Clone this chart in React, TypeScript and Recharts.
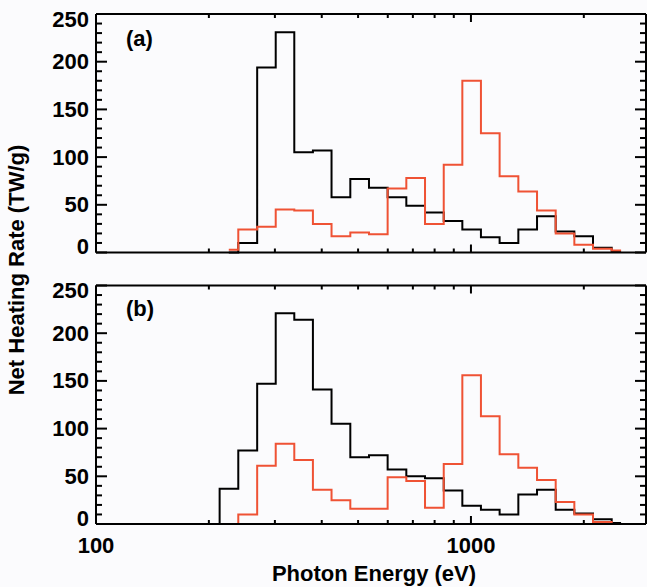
import { LineChart, Line, XAxis, YAxis, Label, ReferenceLine } from 'recharts'

const FONT = '"Liberation Sans", Arial, Helvetica, sans-serif'
const RED = '#ef5234'

// bin centres (eV), 20 bins per decade
const energy = [202, 226, 254, 285, 319, 358, 401, 450, 505, 566, 635, 712, 799, 896, 1004, 1126, 1263, 1417, 1589, 1782, 1998, 2241, 2514]

// panel (a)
const blackA = [null, 0, 10, 194, 231, 105, 107, 58, 77, 68, 58, 49, 42, 33, 24, 16, 10, 24, 38, 22, 17, 5, 1]
const redA = [null, 3, 24, 27, 45, 44, 30, 17, 21, 19, 67, 78, 30, 92, 180, 125, 80, 64, 44, 20, 8, 4, 2]

// panel (b)
const blackB = [0, 37, 77, 147, 221, 214, 141, 105, 70, 72, 57, 50, 48, 35, 19, 15, 10, 31, 36, 15, 11, 5, 1]
const redB = [null, 0, 10, 61, 84, 67, 36, 25, 16, 16, 49, 45, 17, 63, 156, 113, 73, 59, 46, 23, 10, 2, 0]

const yTicks = [0, 10, 20, 30, 40, 50, 60, 70, 80, 90, 100, 110, 120, 130, 140, 150, 160, 170, 180, 190, 200, 210, 220, 230, 240, 250]
const yLabelled = [0, 50, 100, 150, 200, 250]
const xTicks = [100, 200, 300, 400, 500, 600, 700, 800, 900, 1000, 2000]
const xLabelled = [100, 1000]

const X_DOMAIN: [number, number] = [100, 2930]
const Y_DOMAIN: [number, number] = [0, 250]

// plot box size, same for both panels
const PLOT_W = 550
const PLOT_H = 238.5
const PX_PER_DECADE = PLOT_W / Math.log10(X_DOMAIN[1] / X_DOMAIN[0])
const PX_PER_UNIT = PLOT_H / (Y_DOMAIN[1] - Y_DOMAIN[0])
const Y_MARGIN = 7
const X_MARGIN = 13

const axisStyle = { stroke: '#000', strokeWidth: 2 }
const textProps = { fontFamily: FONT, fontSize: 22, fontWeight: 'bold' as const, fill: '#000' }

const xLen = (v: number) => (xLabelled.includes(v) ? 8 : 4)
const yLen = (v: number) => (yLabelled.includes(v) ? 11 : 6)

const xTickLabel = (props: any) => {
  const v = props.payload.value
  if (!xLabelled.includes(v)) return <g />
  return (
    <text x={Number(props.x)} y={Number(props.y)} dy="0.71em" textAnchor="middle" {...textProps}>
      {v}
    </text>
  )
}

const yTickLabel = (props: any) => {
  const v = props.payload.value
  let dy = 0
  if (v === 0) dy = -6
  if (v === 250) dy = 5
  return (
    <text x={Number(props.x)} y={Number(props.y) + dy} textAnchor="end" dominantBaseline="central" {...textProps}>
      {v}
    </text>
  )
}

// IDL-style inward tick marks on all four sides, as short segments in data space
const tickMarks = () => {
  const marks: React.ReactNode[] = []
  const tickProps = { xAxisId: 'x', yAxisId: 'y', stroke: '#000', strokeWidth: 2, ifOverflow: 'visible' as const }
  xTicks.forEach((v) => {
    const dy = xLen(v) / PX_PER_UNIT
    marks.push(<ReferenceLine key={`xb${v}`} {...tickProps} segment={[{ x: v, y: Y_DOMAIN[0] }, { x: v, y: Y_DOMAIN[0] + dy }]} />)
    marks.push(<ReferenceLine key={`xt${v}`} {...tickProps} segment={[{ x: v, y: Y_DOMAIN[1] }, { x: v, y: Y_DOMAIN[1] - dy }]} />)
  })
  yTicks.forEach((v) => {
    const f = Math.pow(10, yLen(v) / PX_PER_DECADE)
    marks.push(<ReferenceLine key={`yl${v}`} {...tickProps} segment={[{ x: X_DOMAIN[0], y: v }, { x: X_DOMAIN[0] * f, y: v }]} />)
    marks.push(<ReferenceLine key={`yr${v}`} {...tickProps} segment={[{ x: X_DOMAIN[1], y: v }, { x: X_DOMAIN[1] / f, y: v }]} />)
  })
  return marks
}

interface PanelProps {
  black: (number | null)[]
  red: (number | null)[]
  height: number
  margin: { top: number; right: number; bottom: number; left: number }
  showX: boolean
}

const Panel = ({ black, red, height, margin, showX }: PanelProps) => {
  const rows = energy.map((e, i) => ({ e, black: black[i], red: red[i] }))

  return (
    <LineChart width={647} height={height} data={rows} margin={margin}>
      <XAxis
        xAxisId="xt"
        type="number"
        dataKey="e"
        scale="log"
        domain={X_DOMAIN}
        orientation="top"
        height={1}
        tick={false}
        tickLine={false}
        axisLine={axisStyle}
      />
      <XAxis
        xAxisId="x"
        type="number"
        dataKey="e"
        scale="log"
        domain={X_DOMAIN}
        ticks={xTicks}
        interval={0}
        orientation="bottom"
        height={showX ? 63 : 1}
        tickLine={false}
        tickSize={0}
        tickMargin={showX ? X_MARGIN : 0}
        axisLine={axisStyle}
        tick={showX ? xTickLabel : false}
      >
        {showX && (
          <Label value="Photon Energy (eV)" position="insideBottom" offset={6} dx={3} style={textProps} />
        )}
      </XAxis>

      <YAxis
        yAxisId="y"
        domain={Y_DOMAIN}
        ticks={yLabelled}
        interval={0}
        orientation="left"
        width={96}
        tickLine={false}
        tickSize={0}
        tickMargin={Y_MARGIN}
        axisLine={axisStyle}
        tick={yTickLabel}
      />
      <YAxis
        yAxisId="yr"
        domain={Y_DOMAIN}
        orientation="right"
        width={1}
        tick={false}
        tickLine={false}
        axisLine={axisStyle}
      />

      {tickMarks()}

      <Line xAxisId="x" yAxisId="y" dataKey="black" type="step" stroke="#000" strokeWidth={2} dot={false} isAnimationActive={false} />
      <Line xAxisId="x" yAxisId="y" dataKey="red" type="step" stroke={RED} strokeWidth={2} dot={false} isAnimationActive={false} />
    </LineChart>
  )
}

const App = () => {
  const htmlText: React.CSSProperties = {
    position: 'absolute',
    fontFamily: FONT,
    fontSize: 22,
    fontWeight: 'bold',
    lineHeight: '22px',
    color: '#000',
    whiteSpace: 'nowrap',
  }

  return (
    <div style={{ position: 'absolute', left: 0, top: 0, width: 647, height: 587, background: '#fbfbfd' }}>
      <div style={{ ...htmlText, left: 17, top: 270, transform: 'translate(-50%, -50%) rotate(-90deg)' }}>
        Net Heating Rate (TW/g)
      </div>
      <div style={{ ...htmlText, left: 126, top: 28 }}>(a)</div>
      <div style={{ ...htmlText, left: 126, top: 298 }}>(b)</div>

      <div style={{ position: 'absolute', left: 0, top: 0 }}>
        <Panel black={blackA} red={redA} height={265} margin={{ top: 13, right: 0, bottom: 11.5, left: 0 }} showX={false} />
      </div>
      <div style={{ position: 'absolute', left: 0, top: 265 }}>
        <Panel black={blackB} red={redB} height={322} margin={{ top: 19.5, right: 0, bottom: 0, left: 0 }} showX />
      </div>
    </div>
  )
}

export default App
